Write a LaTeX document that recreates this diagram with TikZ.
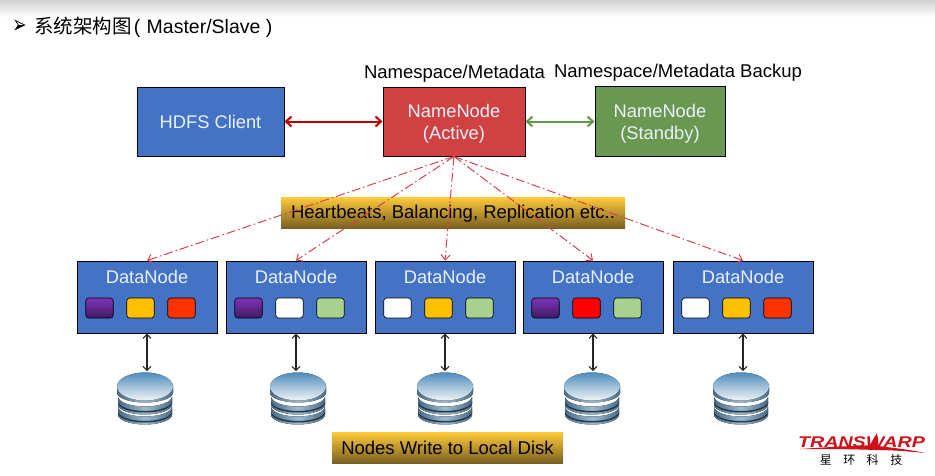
\documentclass[tikz,border=0pt]{standalone}
\usepackage{fontspec}
\setmainfont{Liberation Sans}
\newfontfamily\cjk{Noto Sans CJK SC}
\newfontfamily\dejavu{DejaVu Sans}
\usetikzlibrary{arrows.meta,positioning}
\definecolor{boxblue}{HTML}{4472C4}
\definecolor{boxred}{HTML}{D04141}
\definecolor{boxgreen}{HTML}{6A9850}
\definecolor{lighttext}{HTML}{EAF1FB}
\definecolor{linkred}{HTML}{C00000}
\definecolor{linkgreen}{HTML}{5F9A4A}
\definecolor{beatred}{HTML}{D8404C}
\definecolor{goldtop}{HTML}{FFCB3A}
\definecolor{goldbot}{HTML}{7A6020}
\definecolor{chipgold}{HTML}{FFC000}
\definecolor{chipfire}{HTML}{FF3300}
\definecolor{chipred}{HTML}{FF0000}
\definecolor{chipgreen}{HTML}{A9D18E}
\definecolor{chipviolet}{HTML}{7F32B8}
\definecolor{chipdusk}{HTML}{3E1A62}
\definecolor{diskdark}{HTML}{4A6C88}
\definecolor{diskmid}{HTML}{9DBBD0}
\definecolor{disktop}{HTML}{4F8CBC}
\definecolor{diskface}{HTML}{A8C8DE}
\definecolor{diskrim}{HTML}{F0F4F6}
\definecolor{logored}{HTML}{D01018}
\newcommand{\fs}[1]{\fontsize{#1}{22}\selectfont}

\begin{document}
\begin{tikzpicture}[x=1pt,y=-1pt,semithick]
	\tikzstyle{bluebox}=[draw=black,line width=1pt,fill=boxblue,text=lighttext,font=\fs{18.3},align=center,inner sep=0pt]
	\tikzstyle{datanode}=[bluebox,minimum width=140pt,minimum height=72pt,text height=13pt,text depth=40pt]
	\tikzstyle{chip}=[draw=black,line width=.6pt,rounded corners=3pt,minimum width=27.5pt,minimum height=20pt,inner sep=0pt]
	\tikzstyle{chippurple}=[chip,top color=chipviolet,bottom color=chipdusk]
	\tikzstyle{banner}=[top color=goldtop,bottom color=goldbot,text=black,inner sep=0pt,font=\fs{18.5}]
	\tikzstyle{diskicon}=[minimum width=58pt,minimum height=54pt,inner sep=0pt,path picture={
		\begin{scope}[x=1pt,y=1pt,shift={(path picture bounding box.center)}]
			\fill[left color=diskdark,right color=diskdark,middle color=diskmid] (-27,-16) -- (-27,-8) arc[start angle=180,end angle=360,x radius=27,y radius=10] -- (27,-16) arc[start angle=0,end angle=-180,x radius=27,y radius=10] -- cycle;
			\fill[black!50!diskdark] (-27,-14) arc[start angle=180,end angle=360,x radius=27,y radius=10] -- (27,-12.5) arc[start angle=0,end angle=-180,x radius=27,y radius=10] -- cycle;
			\fill[left color=diskdark,right color=diskdark,middle color=diskmid] (-27,-6) -- (-27,2) arc[start angle=180,end angle=360,x radius=27,y radius=10] -- (27,-6) arc[start angle=0,end angle=-180,x radius=27,y radius=10] -- cycle;
			\fill[black!50!diskdark] (-27,-4) arc[start angle=180,end angle=360,x radius=27,y radius=10] -- (27,-2.5) arc[start angle=0,end angle=-180,x radius=27,y radius=10] -- cycle;
			\fill[left color=diskdark,right color=diskdark,middle color=diskmid] (-28,13) -- (-28,6) arc[start angle=180,end angle=360,x radius=28,y radius=10] -- (28,13) -- cycle;
			\fill[top color=disktop,middle color=diskface,bottom color=diskrim] (0,12) ellipse[x radius=28pt,y radius=14pt];
		\end{scope}}]
	\tikzstyle{disklink}=[{Straight Barb[length=4pt,width=8pt]}-{Straight Barb[length=4pt,width=8pt]},black!85,line width=1.2pt]
	\tikzstyle{beat}=[-{Straight Barb[length=5pt,width=9pt]},beatred,line width=1pt,dash pattern=on 9pt off 3pt on 1.5pt off 3pt]
	\tikzstyle{duplex}=[{Straight Barb[length=5.5pt,width=10pt]}-{Straight Barb[length=5.5pt,width=10pt]},line width=2pt]

	% top band and title
	\fill[top color=black!18,bottom color=white] (0,0) rectangle (935,17);
	\node[anchor=west,inner sep=0pt,font=\dejavu\fs{17},yscale=1.5] (mark) at (12,27) {➢};
	\node[anchor=west,inner sep=0pt,font=\fs{19.5}] (title) at (34,27) {{\cjk 系统架构图}\hspace{2pt}(\hspace{1pt} Master/Slave )};

	% masters
	\node[bluebox,minimum width=147pt,minimum height=69pt,text height=15pt] (client) at (210.5,121.5) {HDFS Client};
	\node[bluebox,fill=boxred,minimum width=142pt,minimum height=69pt] (active) [right of=client,node distance=243.5pt] {\rule{0pt}{17.5pt}NameNode\\(Active)};
	\node[bluebox,fill=boxgreen,minimum width=130pt,minimum height=70pt] (standby) [right of=active,node distance=206pt] {\rule{0pt}{17.5pt}NameNode\\(Standby)};
	\node[inner sep=0pt,font=\fs{18.5}] (metalabel) at (454.5,73.5) {Namespace/Metadata};
	\node[inner sep=0pt,font=\fs{18.5}] (backuplabel) at (678,72.5) {Namespace/Metadata Backup};

	% data nodes
	\node[datanode] (dn1) at (147,297) {DataNode};
	\node[datanode] (dn2) [right of=dn1,node distance=149pt] {DataNode};
	\node[datanode] (dn3) [right of=dn2,node distance=149pt] {DataNode};
	\node[datanode] (dn4) [right of=dn3,node distance=148pt] {DataNode};
	\node[datanode] (dn5) [right of=dn4,node distance=150pt] {DataNode};

	% blocks
	\node[chippurple] (b11) at (99.5,308) {};
	\node[chip,fill=chipgold] (b12) [right of=b11,node distance=41pt] {};
	\node[chip,fill=chipfire] (b13) [right of=b12,node distance=41pt] {};
	\node[chippurple] (b21) at (248.5,308) {};
	\node[chip,fill=white] (b22) [right of=b21,node distance=41pt] {};
	\node[chip,fill=chipgreen] (b23) [right of=b22,node distance=41pt] {};
	\node[chip,fill=white] (b31) at (397.5,308) {};
	\node[chip,fill=chipgold] (b32) [right of=b31,node distance=41pt] {};
	\node[chip,fill=chipgreen] (b33) [right of=b32,node distance=41pt] {};
	\node[chippurple] (b41) at (545.5,308) {};
	\node[chip,fill=chipred] (b42) [right of=b41,node distance=41pt] {};
	\node[chip,fill=chipgreen] (b43) [right of=b42,node distance=41pt] {};
	\node[chip,fill=white] (b51) at (695.5,308) {};
	\node[chip,fill=chipgold] (b52) [right of=b51,node distance=41pt] {};
	\node[chip,fill=chipfire] (b53) [right of=b52,node distance=41pt] {};

	% disks
	\node[diskicon] (d1) at (145,398.5) {};
	\node[diskicon] (d2) at (298,398.5) {};
	\node[diskicon] (d3) at (445,398.5) {};
	\node[diskicon] (d4) at (592,398.5) {};
	\node[diskicon] (d5) at (741,398.5) {};

	% banners
	\node[banner,minimum width=344pt,minimum height=31pt,text height=16pt] (beats) at (453,212.5) {Heartbeats, Balancing, Replication etc..};
	\node[banner,minimum width=231pt,minimum height=31pt] (localdisk) at (447.5,447.5) {Nodes Write to Local Disk};

	\path
	(client) edge[duplex,linkred] (active)
	(active) edge[duplex,linkgreen] (standby)
	(active.south) edge[beat] (dn1.north)
	(active.south) edge[beat] (dn2.north)
	(active.south) edge[beat] (dn3.north)
	(active.south) edge[beat] (dn4.north)
	(active.south) edge[beat] (dn5.north)
	(dn1.south) edge[disklink] (dn1.south |- d1.north)
	(dn2.south) edge[disklink] (dn2.south |- d2.north)
	(dn3.south) edge[disklink] (dn3.south |- d3.north)
	(dn4.south) edge[disklink] (dn4.south |- d4.north)
	(dn5.south) edge[disklink] (dn5.south |- d5.north);

	% logo
	\fill[logored] (800,449) .. controls (840,446) and (865,446) .. (870,445) -- (877,433) -- (878,446) .. controls (895,448) and (912,450) .. (925,453) .. controls (905,451) and (890,450) .. (875,450) .. controls (850,449) and (825,449) .. (800,449) -- cycle;
	\node[inner sep=0pt,text=logored,font=\bfseries\itshape\fs{15.5},xscale=1.27] (brand) at (861.5,442) {TRANSWARP};
	\node[inner sep=0pt,font=\cjk\fs{12}] (brandcn) at (861,460) {星\hspace{11.5pt}环\hspace{11.5pt}科\hspace{11.5pt}技};

	\useasboundingbox (0,0) rectangle (935,475);
\end{tikzpicture}
\end{document}
